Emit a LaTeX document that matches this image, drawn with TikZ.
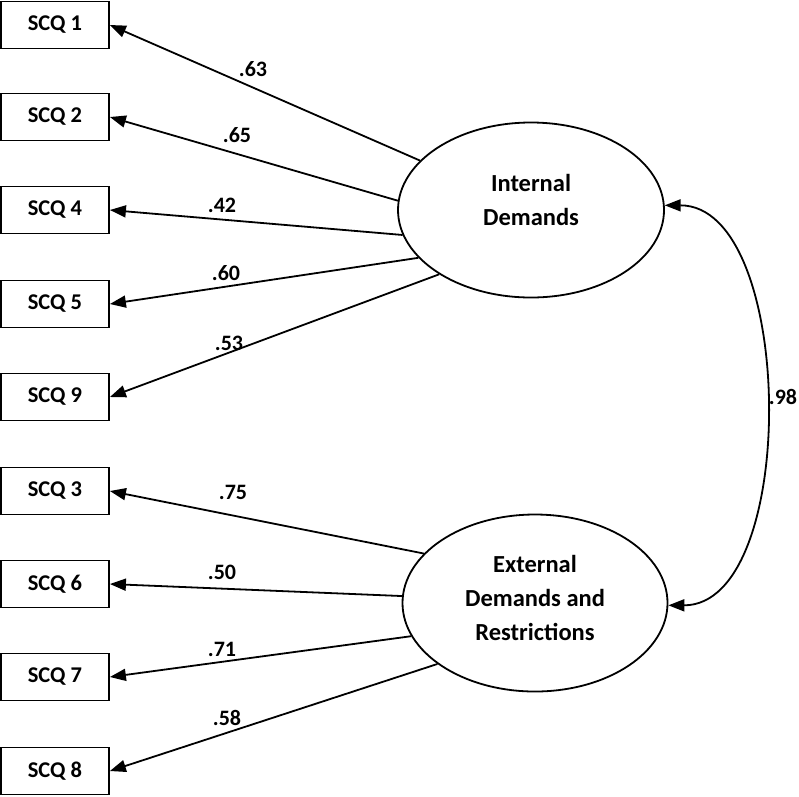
\documentclass[tikz,border=0pt]{standalone}
\usepackage{fontspec}
\setmainfont{Carlito}
\usetikzlibrary{arrows.meta,shapes.geometric}

\begin{document}
\begin{tikzpicture}[x=1pt,y=-1pt,line cap=rect]
	\tikzset{
		item/.style={draw, line width=1.8pt, minimum width=108pt, minimum height=47pt, inner sep=0, font=\bfseries\fontsize{22.5pt}{26pt}\selectfont},
		factor/.style={draw, ellipse, line width=1.8pt, inner sep=0},
		factortext/.style={inner sep=0, align=center, font=\bfseries\fontsize{24.5pt}{34pt}\selectfont},
		load/.style={line width=1.8pt, line cap=butt, -{Triangle[length=16pt,width=12pt]}},
		corr/.style={line width=1.8pt, line cap=butt, {Triangle[length=16pt,width=12pt]}-{Triangle[length=16pt,width=12pt]}},
		coef/.style={inner sep=0, font=\bfseries\fontsize{22pt}{26pt}\selectfont}
	}
	\useasboundingbox (0,0) rectangle (799,796);
	% observed items
	\node[item] (scq1) at (55,25) {SCQ 1};
	\node[item] (scq2) at (55,117) {SCQ 2};
	\node[item] (scq4) at (55,210) {SCQ 4};
	\node[item] (scq5) at (55,304) {SCQ 5};
	\node[item] (scq9) at (55,397) {SCQ 9};
	\node[item] (scq3) at (55,491) {SCQ 3};
	\node[item] (scq6) at (55,584) {SCQ 6};
	\node[item] (scq7) at (55,677) {SCQ 7};
	\node[item] (scq8) at (55,771) {SCQ 8};
	% latent factors
	\node[factor, minimum width=266pt, minimum height=175pt] (intd) at (531,210) {};
	\node[factor, minimum width=265pt, minimum height=177pt] (extd) at (535,603) {};
	\node[factortext] (intdtext) at (531,200) {Internal\\Demands};
	\node[factortext] (extdtext) at (535,598) {External\\Demands and\\Restrictions};
	% loadings
	\draw[load] (intd.156) -- (scq1.east);
	\draw[load] (intd.176) -- (scq2.east);
	\draw[load] (intd.191.6) -- (scq4.east);
	\draw[load] (intd.203.3) -- (scq5.east);
	\draw[load] (intd.215) -- (scq9.east);
	\draw[load] (extd.156.8) -- (scq3.east);
	\draw[load] (extd.177.8) -- (scq6.east);
	\draw[load] (extd.195.2) -- (scq7.east);
	\draw[load] (extd.212.7) -- (scq8.east);
	\node[coef] (l1) at (253,69) {.63};
	\node[coef] (l2) at (237,135) {.65};
	\node[coef] (l4) at (222,205) {.42};
	\node[coef] (l5) at (226,273) {.60};
	\node[coef] (l9) at (229,343) {.53};
	\node[coef] (l3) at (233,492) {.75};
	\node[coef] (l6) at (222,572) {.50};
	\node[coef] (l7) at (222,649) {.71};
	\node[coef] (l8) at (227,718) {.58};
	% factor correlation
	\draw[corr] (intd.2.6) to[out=0, in=0, looseness=0.84] (extd.359);
	\node[coef] (r12) at (783,397) {.98};
\end{tikzpicture}
\end{document}
